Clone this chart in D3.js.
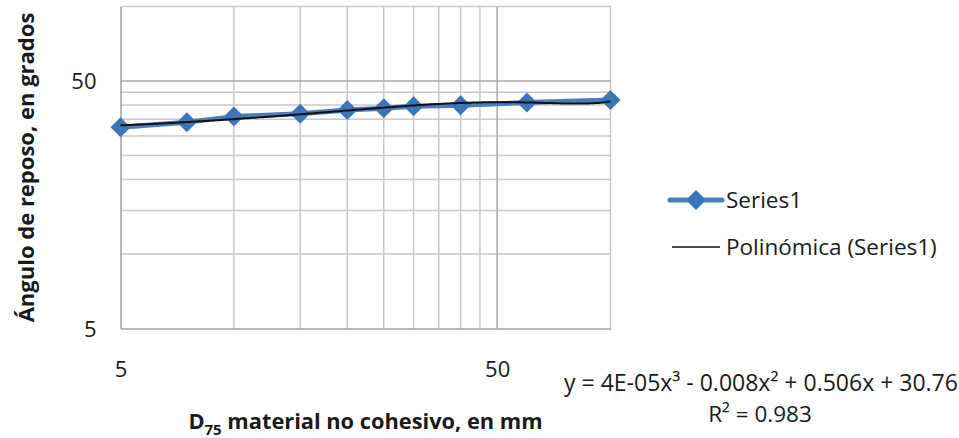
<!DOCTYPE html>
<html>
<head>
<meta charset="utf-8">
<script src="https://cdn.jsdelivr.net/npm/d3@7"></script>
<style>
  body { margin: 0; background: #fff; }
  svg { display: block; }
  text { font-family: "Open Sans", "Noto Sans", sans-serif; fill: #1a1a1a; }
</style>
</head>
<body>
<script>
// data
var d75 = [5, 7.5, 10, 15, 20, 25, 30, 40, 60, 100];
var angulo = [32.5, 34.1, 35.9, 36.9, 38.2, 38.8, 39.5, 39.9, 40.9, 41.9];
// trendline coefficients as printed: a*x^3 + b*x^2 + c*x + d
var coefs = [4e-5, -0.008, 0.506, 30.76];
var xTicks = [5, 50];
var yTicks = [5, 50];
var xMinor = [10, 15, 20, 25, 30, 35, 40, 45, 100];
var yMinor = [10, 15, 20, 25, 30, 35, 40, 45, 100];
var seriesName = "Series1";
var trendName = "Polinómica (Series1)";
var ecuacion = "y = 4E-05x³ - 0.008x² + 0.506x + 30.76";
var r2 = "R² = 0.983";

var svg = d3.select("body").append("svg")
    .attr("width", 959)
    .attr("height", 438);

var margin = {top: 6.5, right: 348.5, bottom: 109.5, left: 120.5},
    width = 959 - margin.left - margin.right,
    height = 438 - margin.top - margin.bottom;

var x = d3.scaleLog().domain([5, 100]).range([margin.left, margin.left + width]);
var y = d3.scaleLog().domain([5, 100]).range([margin.top + height, margin.top]);

var grid = svg.append("g").attr("class", "grid");

grid.selectAll(".vminor")
    .data(xMinor)
  .enter().append("line")
    .attr("x1", function(d) { return x(d); })
    .attr("x2", function(d) { return x(d); })
    .attr("y1", y.range()[0])
    .attr("y2", y.range()[1])
    .attr("stroke", "#c9c9c9")
    .attr("stroke-width", 1.5);

grid.selectAll(".hminor")
    .data(yMinor)
  .enter().append("line")
    .attr("y1", function(d) { return y(d); })
    .attr("y2", function(d) { return y(d); })
    .attr("x1", x.range()[0])
    .attr("x2", x.range()[1])
    .attr("stroke", "#c9c9c9")
    .attr("stroke-width", 1.5);

// major gridlines (the decade lines) a bit darker
grid.selectAll(".vmajor")
    .data(xTicks.slice(1))
  .enter().append("line")
    .attr("x1", function(d) { return x(d); })
    .attr("x2", function(d) { return x(d); })
    .attr("y1", y.range()[0])
    .attr("y2", y.range()[1])
    .attr("stroke", "#a8a8a8")
    .attr("stroke-width", 1.5);

grid.selectAll(".hmajor")
    .data(yTicks.slice(1))
  .enter().append("line")
    .attr("y1", function(d) { return y(d); })
    .attr("y2", function(d) { return y(d); })
    .attr("x1", x.range()[0])
    .attr("x2", x.range()[1])
    .attr("stroke", "#a8a8a8")
    .attr("stroke-width", 1.5);

// axes
var xAxis = svg.append("g")
    .attr("transform", "translate(0," + y.range()[0] + ")")
    .call(d3.axisBottom(x).tickValues(xTicks).tickSize(0).tickPadding(33).tickFormat(d3.format("d")));
var yAxis = svg.append("g")
    .attr("transform", "translate(" + x.range()[0] + ",0)")
    .call(d3.axisLeft(y).tickValues(yTicks).tickSize(0).tickPadding(24).tickFormat(d3.format("d")));

[xAxis, yAxis].forEach(function(a) {
  a.select(".domain").attr("stroke", "#a0a0a0").attr("stroke-width", 1.5);
  a.selectAll("text")
    .style("font-family", "'Open Sans', sans-serif")
    .style("font-size", "22px")
    .attr("fill", "#1a1a1a");
});
yAxis.selectAll("text").attr("dy", "0.36em");

// series line
var line = d3.line()
    .x(function(d, i) { return x(d75[i]); })
    .y(function(d) { return y(d); });

svg.append("path")
    .datum(angulo)
    .attr("fill", "none")
    .attr("stroke", "#4a7ebb")
    .attr("stroke-width", 5)
    .attr("stroke-linejoin", "round")
    .attr("d", line);

var diamond = "M0,-10L10,0L0,10L-10,0Z";

svg.selectAll(".punto")
    .data(angulo)
  .enter().append("path")
    .attr("class", "punto")
    .attr("transform", function(d, i) { return "translate(" + x(d75[i]) + "," + y(d) + ")"; })
    .attr("d", diamond)
    .attr("fill", "#3d75b9");

// polynomial trendline
var poly = function(v) { return coefs[0]*v*v*v + coefs[1]*v*v + coefs[2]*v + coefs[3]; };
var xs = d3.range(0, 201).map(function(i) { return 5 * Math.pow(20, i / 200); });

svg.append("path")
    .datum(xs)
    .attr("fill", "none")
    .attr("stroke", "#111")
    .attr("stroke-width", 2)
    .attr("d", d3.line().x(function(d) { return x(d); }).y(function(d) { return y(poly(d)); }));

// axis titles
svg.append("text")
    .attr("transform", "translate(34," + (margin.top + height / 2) + ") rotate(-90)")
    .attr("text-anchor", "middle")
    .style("font-size", "22px")
    .style("font-weight", "bold")
    .text("Ángulo de reposo, en grados");

var xt = svg.append("text")
    .attr("x", margin.left + width / 2)
    .attr("y", 429)
    .attr("text-anchor", "middle")
    .style("font-size", "21.8px")
    .style("font-weight", "bold");
xt.append("tspan").text("D");
xt.append("tspan").attr("dy", 6).style("font-size", "15px").text("75");
xt.append("tspan").attr("dy", -6).text(" material no cohesivo, en mm");

// legend
var leg = svg.append("g");
leg.append("line")
    .attr("x1", 670).attr("x2", 722).attr("y1", 200).attr("y2", 200)
    .attr("stroke", "#4a7ebb").attr("stroke-width", 5).attr("stroke-linecap", "round");
leg.append("path")
    .attr("transform", "translate(696,200)")
    .attr("d", diamond)
    .attr("fill", "#3d75b9");
leg.append("text")
    .attr("x", 726).attr("y", 200).attr("dy", "0.36em")
    .style("font-size", "22.5px")
    .text(seriesName);
leg.append("line")
    .attr("x1", 672).attr("x2", 720).attr("y1", 247).attr("y2", 247)
    .attr("stroke", "#111").attr("stroke-width", 1.5);
leg.append("text")
    .attr("x", 726).attr("y", 247).attr("dy", "0.36em")
    .style("font-size", "22.5px")
    .text(trendName);

// trendline label
svg.append("text")
    .attr("x", 761).attr("y", 383).attr("dy", "0.36em")
    .attr("text-anchor", "middle")
    .style("font-size", "23px")
    .text(ecuacion);
svg.append("text")
    .attr("x", 760).attr("y", 414).attr("dy", "0.36em")
    .attr("text-anchor", "middle")
    .style("font-size", "22.5px")
    .text(r2);
</script>
</body>
</html>
